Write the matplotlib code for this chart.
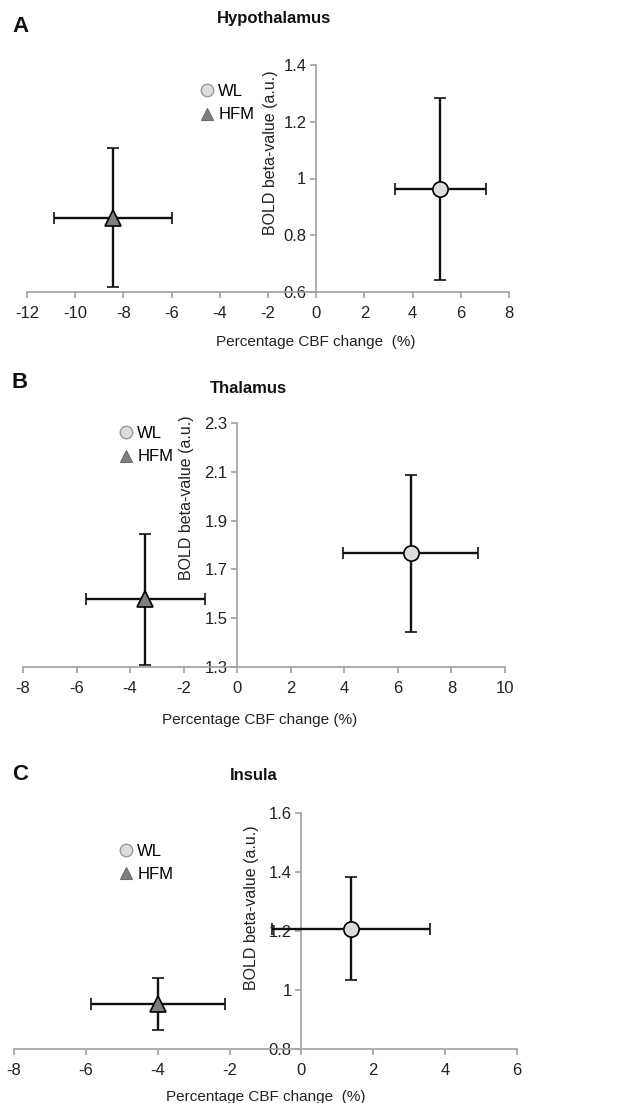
import matplotlib
matplotlib.use("Agg")
import matplotlib.pyplot as plt
from matplotlib.lines import Line2D

plt.rcParams['font.family'] = ['Liberation Sans', 'DejaVu Sans']
plt.rcParams['axes.unicode_minus'] = False

# panel data: (x, xerr, y, yerr) per group
titles = ["Hypothalamus", "Thalamus", "Insula"]
letters = ["A", "B", "C"]

wl_x = [5.15, 6.48, 1.37]
wl_xerr = [1.9, 2.52, 2.2]
wl_y = [0.962, 1.766, 1.208]
wl_yerr = [0.32, 0.322, 0.175]

hfm_x = [-8.43, -3.43, -4.0]
hfm_xerr = [2.44, 2.22, 1.86]
hfm_y = [0.862, 1.578, 0.952]
hfm_yerr = [0.246, 0.268, 0.088]

x_lims = [(-12, 8), (-8, 10), (-8, 6)]
x_ticks = [range(-12, 9, 2), range(-8, 11, 2), range(-8, 7, 2)]
y_lims = [(0.6, 1.4), (1.3, 2.3), (0.8, 1.6)]
y_ticks = [[0.6, 0.8, 1.0, 1.2, 1.4], [1.3, 1.5, 1.7, 1.9, 2.1, 2.3], [0.8, 1.0, 1.2, 1.4, 1.6]]
y_ticklabels = [["0.6", "0.8", "1", "1.2", "1.4"],
                ["1.3", "1.5", "1.7", "1.9", "2.1", "2.3"],
                ["0.8", "1", "1.2", "1.4", "1.6"]]
xlabels = ["Percentage CBF change  (%)", "Percentage CBF change (%)", "Percentage CBF change  (%)"]

W, H = 642, 1103
# layout in pixels: (left, right, top, bottom)
boxes = [(27, 509, 65, 292), (23, 505, 423, 667), (14, 517, 813, 1049)]
title_pos = [(274, 18), (248, 389), (254, 775)]
letter_pos = [(12, 26), (12, 382), (12, 775)]
legend_pos = [(200, 84), (119, 426), (119, 844)]
ylab_pos = [(0.52, 0.612), (0.355, 0.693), (0.487, 0.60)]
xlab_pos = [(0.60, -0.19), (0.49, -0.19), (0.50, -0.175)]

axis_col = '#a0a0a0'
wl_col = '#dcdcdc'
hfm_col = '#7f7f7f'

fig = plt.figure(figsize=(W / 100, H / 100), dpi=100)

for i in range(3):
    l, r, t, b = boxes[i]
    ax = fig.add_axes([l / W, 1 - b / H, (r - l) / W, (b - t) / H])
    ax.set_xlim(*x_lims[i])
    ax.set_ylim(*y_lims[i])

    ax.errorbar(hfm_x[i], hfm_y[i], xerr=hfm_xerr[i], yerr=hfm_yerr[i],
                fmt='^', color='black', ecolor='#111111', elinewidth=1.7, capsize=4, capthick=1.7,
                markersize=11, markerfacecolor=hfm_col, markeredgecolor='black', markeredgewidth=1.2,
                zorder=3, clip_on=False)
    ax.errorbar(wl_x[i], wl_y[i], xerr=wl_xerr[i], yerr=wl_yerr[i],
                fmt='o', color='black', ecolor='#111111', elinewidth=1.7, capsize=4, capthick=1.7,
                markersize=11, markerfacecolor=wl_col, markeredgecolor='black', markeredgewidth=1.2,
                zorder=3, clip_on=False)

    for s in ['top', 'right']:
        ax.spines[s].set_visible(False)
    ax.spines['left'].set_position(('data', 0))
    for s in ['left', 'bottom']:
        ax.spines[s].set_color(axis_col)
        ax.spines[s].set_linewidth(1.2)

    ax.set_xticks(list(x_ticks[i]))
    ax.set_yticks(y_ticks[i])
    ax.set_yticklabels(y_ticklabels[i])
    ax.tick_params(axis='both', direction='out', length=4, width=1.2, color=axis_col,
                   labelsize=12, labelcolor='#222222')
    ax.tick_params(axis='x', pad=6)
    ax.tick_params(axis='y', pad=3)

    ax.set_ylabel("BOLD beta-value (a.u.)", fontsize=11.5, color='#222222')
    ax.yaxis.set_label_coords(*ylab_pos[i])
    ax.set_xlabel(xlabels[i], fontsize=11, color='#222222')
    ax.xaxis.set_label_coords(*xlab_pos[i])
    ax.patch.set_alpha(0)

    handles = [Line2D([], [], linestyle='none', marker='o', markersize=9,
                      markerfacecolor=wl_col, markeredgecolor='#9a9a9a', markeredgewidth=1),
               Line2D([], [], linestyle='none', marker='^', markersize=9,
                      markerfacecolor=hfm_col, markeredgecolor='#6a6a6a', markeredgewidth=0.8)]
    lx, ly = legend_pos[i]
    fig.legend(handles, ["WL", "HFM"], loc='upper left', frameon=False,
               bbox_to_anchor=(lx / W, 1 - ly / H), fontsize=12,
               handlelength=0.8, handletextpad=0.3, labelspacing=0.5,
               borderaxespad=0, borderpad=0)

    tx, ty = title_pos[i]
    fig.text(tx / W, 1 - ty / H, titles[i], ha='center', va='center',
             fontsize=12, fontweight='bold', color='#111111')
    px, py = letter_pos[i]
    fig.text(px / W, 1 - py / H, letters[i], ha='left', va='center',
             fontsize=16, fontweight='bold', color='#111111')

fig.savefig("out.png", dpi=100)
